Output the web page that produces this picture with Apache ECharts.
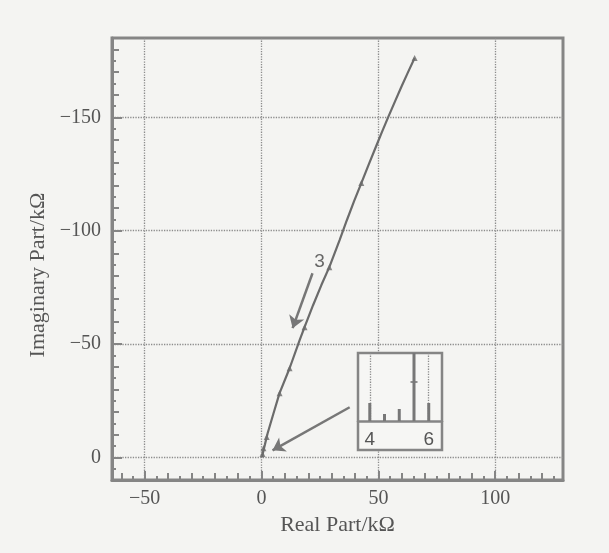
<!DOCTYPE html>
<html><head><meta charset="utf-8">
<script src="https://cdn.jsdelivr.net/npm/echarts@6/dist/echarts.min.js"></script>
<style>html,body{margin:0;padding:0;background:#f4f4f2}#c{width:609px;height:553px}</style>
</head><body><div id="c"></div>
<script>
// ---- data (kΩ) ----
const realPart = [0.3, 0.5, 0.8, 1.4, 2.6, 5.0, 7.7, 12.0, 16.3, 18.4, 22.0, 25.6, 29.0, 33.4, 36.5, 39.6, 42.7, 45.8, 48.9, 51.5, 54.2, 57.3, 59.8, 62.5, 65.5];
const imagPart = [0.0, -1.5, -3.0, -5.5, -10.6, -19.0, -28.3, -39.3, -51.7, -57.4, -67.0, -76.0, -83.9, -95.8, -104.6, -113.0, -121.0, -129.0, -136.9, -143.5, -150.1, -157.5, -163.4, -169.5, -176.2];
const markerReal = [0.4, 0.8, 2.2, 7.7, 12.0, 18.4, 29.0, 42.7, 65.5];
const markerImag = [-1.5, -4.0, -9.0, -28.3, -39.3, -57.4, -83.9, -121.0, -176.2];
const xTickLabels = [-50, 0, 50, 100];
const yTickLabels = [-150, -100, -50, 0];
const curveLabel = '3';
const curveLabelAt = [24.8, -86.1];
const arrowCurve = [[21.8, -81.2], [13.3, -57.0]];
const arrowInset = [[37.7, -22.1], [4.7, -3.1]];
// inset (zoom near origin)
const insetX = [4.0, 4.5, 5.0, 5.5, 6.0];
const insetH = [18, 7, 12, 68, 18];
const insetMarkX = [5.5];
const insetMarkH = [39];
const insetTickLabels = [4, 6];

function range(a, b, s) { const r = []; for (let v = a; v <= b + 1e-9; v += s) r.push(v); return r; }
const minus = v => String(v).replace('-', '\u2212');
const AX = '#858585', TXT = '#555', LINE = '#6b6b6b';
const serif = 'Liberation Serif';

function tickAxis(min, max, ticks, len, extra) {
  return Object.assign({
    type: 'value', min: min, max: max, gridIndex: 0,
    axisLine: { show: false, onZero: false },
    axisTick: { show: true, inside: true, length: len, customValues: ticks, lineStyle: { color: AX, width: 2 } },
    axisLabel: { show: false },
    splitLine: { show: false }
  }, extra || {});
}

const xMin = -64, xMax = 129, yMin = -185, yMax = 10;

const chart = echarts.init(document.getElementById('c'), null, { renderer: 'canvas' });
chart.setOption({
  backgroundColor: '#f4f4f2',
  animation: false,
  grid: [
    { left: 112, top: 38, right: 46, bottom: 73, show: true, borderColor: AX, borderWidth: 3, outerBoundsMode: 'none' },
    { left: 358, top: 353, width: 84, height: 68, outerBoundsMode: 'none' }
  ],
  xAxis: [
    {
      type: 'value', min: xMin, max: xMax, position: 'bottom', gridIndex: 0,
      name: 'Real Part/kΩ', nameLocation: 'middle', nameGap: 30,
      nameTextStyle: { fontFamily: serif, fontSize: 22, color: TXT },
      axisLine: { show: true, onZero: false, lineStyle: { color: AX, width: 3 } },
      axisTick: { show: true, inside: true, length: 9, customValues: xTickLabels, lineStyle: { color: AX, width: 2 } },
      axisLabel: { customValues: xTickLabels, formatter: minus, fontFamily: serif, fontSize: 20, color: TXT, margin: 9 },
      splitLine: { show: true, lineStyle: { type: 'dotted', color: '#8c8c8c', width: 1.3 } }
    },
    tickAxis(xMin, xMax, range(-60, 120, 10), 7, { position: 'bottom' }),
    tickAxis(xMin, xMax, range(-60, 125, 5), 4, { position: 'bottom' }),
    {
      type: 'value', gridIndex: 1, min: 3.6, max: 6.45, position: 'bottom', z: 11,
      axisLine: { show: true, onZero: false, lineStyle: { color: AX, width: 2.5 } },
      axisTick: { show: false, customValues: insetTickLabels },
      axisLabel: { customValues: insetTickLabels, fontFamily: 'Liberation Sans', fontSize: 19, color: TXT, margin: 9 },
      splitLine: { show: true, lineStyle: { type: 'dotted', color: '#8c8c8c', width: 1.3 } }
    }
  ],
  yAxis: [
    {
      type: 'value', min: yMin, max: yMax, inverse: true, position: 'left', gridIndex: 0,
      name: 'Imaginary Part/kΩ', nameLocation: 'middle', nameGap: 62,
      nameTextStyle: { fontFamily: serif, fontSize: 22, color: TXT, padding: [0, 32, 0, 0] },
      axisLine: { show: true, onZero: false, lineStyle: { color: AX, width: 3 } },
      axisTick: { show: true, inside: true, length: 10, customValues: yTickLabels, lineStyle: { color: AX, width: 2 } },
      axisLabel: { customValues: yTickLabels, formatter: minus, fontFamily: serif, fontSize: 20, color: TXT, margin: 11 },
      splitLine: { show: true, lineStyle: { type: 'dotted', color: '#8c8c8c', width: 1.3 } }
    },
    tickAxis(yMin, yMax, range(-180, 10, 10), 7, { inverse: true, position: 'left' }),
    tickAxis(yMin, yMax, range(-185, 10, 5), 4, { inverse: true, position: 'left' }),
    { type: 'value', gridIndex: 1, min: 0, max: 68, show: false }
  ],
  graphic: [
    { type: 'rect', z: 10, shape: { x: 358, y: 353, width: 84, height: 97 },
      style: { fill: '#f6f6f4', stroke: AX, lineWidth: 2.5 } }
  ],
  series: [
    {
      type: 'line', xAxisIndex: 0, yAxisIndex: 0, z: 3,
      data: realPart.map((x, i) => [x, imagPart[i]]),
      symbol: 'none', lineStyle: { color: LINE, width: 2.2 },
      markLine: {
        silent: true, symbol: ['none', 'arrow'], symbolSize: 12,
        lineStyle: { type: 'solid', color: '#777', width: 2.5 },
        itemStyle: { color: '#777' },
        label: { show: false },
        data: [
          [{ coord: arrowCurve[0] }, { coord: arrowCurve[1] }],
          [{ coord: arrowInset[0] }, { coord: arrowInset[1] }]
        ]
      }
    },
    {
      type: 'scatter', xAxisIndex: 0, yAxisIndex: 0, z: 4,
      data: markerReal.map((x, i) => [x, markerImag[i]]),
      symbol: 'triangle', symbolSize: 6, itemStyle: { color: LINE }
    },
    {
      type: 'scatter', xAxisIndex: 0, yAxisIndex: 0, z: 4,
      data: [curveLabelAt], symbolSize: 1, itemStyle: { color: 'rgba(0,0,0,0)' },
      label: { show: true, position: 'inside', formatter: curveLabel, fontFamily: 'Liberation Sans', fontSize: 19, color: '#444' }
    },
    {
      type: 'bar', xAxisIndex: 3, yAxisIndex: 3, z: 12, barWidth: 3,
      data: insetX.map((x, i) => [x, insetH[i]]),
      itemStyle: { color: '#777' }
    },
    {
      type: 'scatter', xAxisIndex: 3, yAxisIndex: 3, z: 13,
      data: insetMarkX.map((x, i) => [x, insetMarkH[i]]),
      symbol: 'rect', symbolSize: [7, 2], itemStyle: { color: '#777' }
    }
  ]
});
</script>
</body></html>
